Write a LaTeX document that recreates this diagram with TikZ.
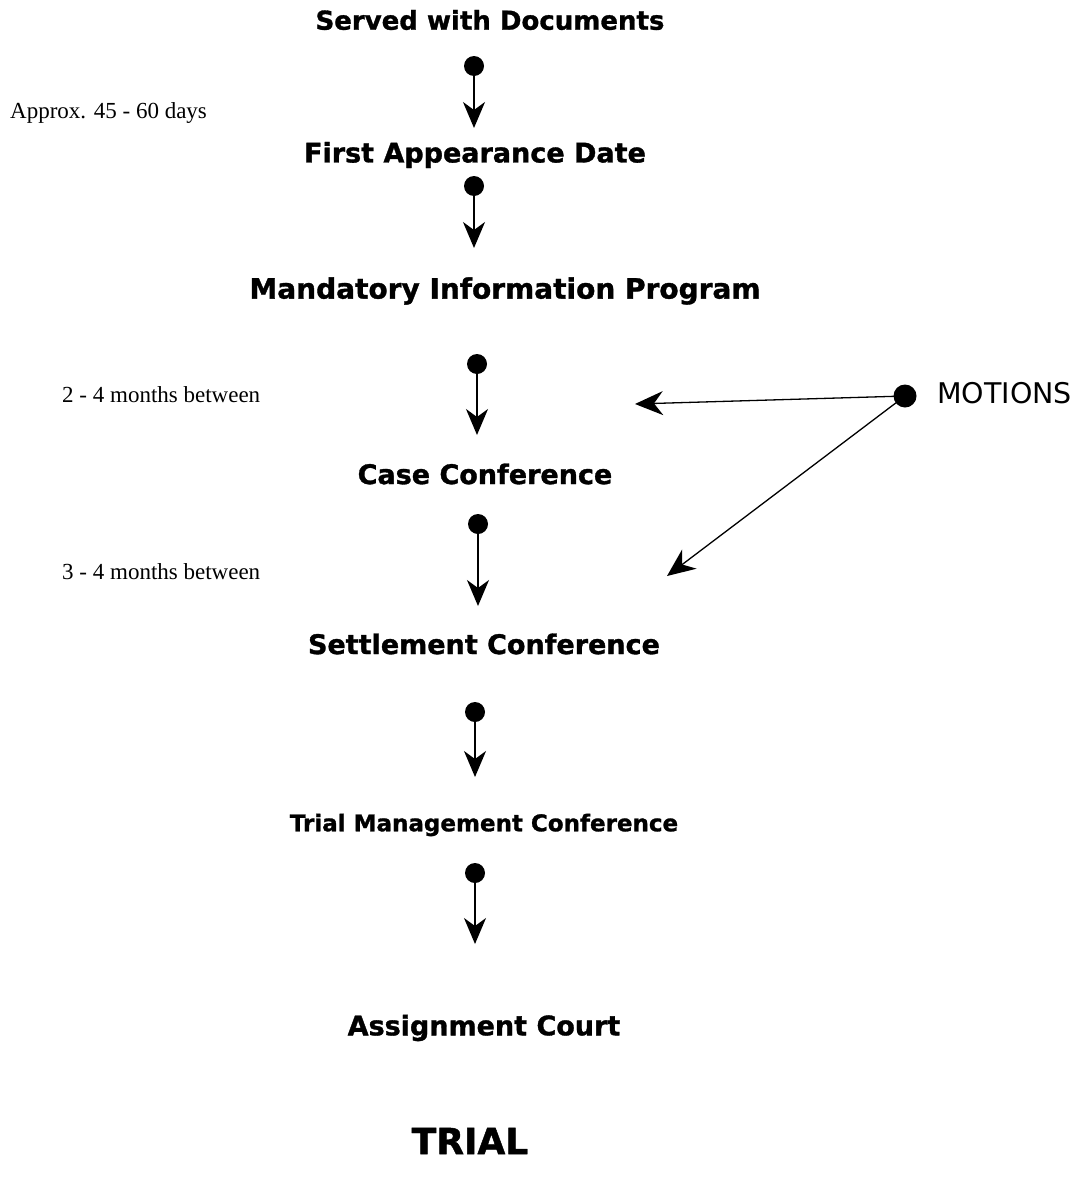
\documentclass[tikz,border=0pt]{standalone}
\usepackage{fontspec}
\setmainfont{Liberation Serif}
\newfontfamily\stagefont[BoldFeatures={FakeBold=1.2}]{DejaVu Sans}
\usetikzlibrary{arrows.meta, positioning}
\tikzstyle{stage} = [font=\stagefont\bfseries\fontsize{27}{32}\selectfont, inner sep=0pt]
\tikzstyle{note} = [font=\fontsize{23}{27}\selectfont, inner sep=0pt, anchor=west]
\tikzstyle{dot} = [circle, fill=black, minimum size=20pt, inner sep=0pt]
\tikzstyle{arrow} = [line width=1.5pt, -{Stealth[length=26pt,width=22pt,inset=8pt]}]
\tikzstyle{motionarrow} = [line width=1.3pt, -{Stealth[length=28pt,width=24pt,inset=9pt]}]

\begin{document}
\begin{tikzpicture}[x=1pt, y=-1pt]
    \useasboundingbox (0,0) rectangle (1081,1186);

    % stages
    \node (served) [stage, font=\stagefont\bfseries\fontsize{26}{31}\selectfont] at (490,20) {Served with Documents};
    \node (first) [stage] at (475,155) {First Appearance Date};
    \node (mip) [stage, font=\stagefont\bfseries\fontsize{28}{33}\selectfont] at (505,291) {Mandatory Information Program};
    \node (case) [stage] at (485,474) {Case Conference};
    \node (settle) [stage] at (484,644) {Settlement Conference};
    \node (tmc) [stage, font=\stagefont\bfseries\fontsize{23}{27}\selectfont] at (484,825) {Trial Management Conference};
    \node (assign) [stage] at (484,1028) {Assignment Court};
    \node (trial) [stage, font=\stagefont\bfseries\fontsize{36}{42}\selectfont] at (470,1141) {TRIAL};

    % time notes
    \node (approx) [note] at (10,113) {Approx. 45 - 60 days};
    \node (gap1) [note] at (62,395) {2 - 4 months between};
    \node (gap2) [note] at (62,572) {3 - 4 months between};

    % dots and arrow tips
    \node (d1) [dot] at (474,66) {};
    \coordinate (t1) at (474,128);
    \node (d2) [dot] at (474,186) {};
    \coordinate (t2) at (474,248);
    \node (d3) [dot] at (477,364) {};
    \coordinate (t3) at (477,435);
    \node (d4) [dot] at (478,524) {};
    \coordinate (t4) at (478,606);
    \node (d5) [dot] at (475,712) {};
    \coordinate (t5) at (475,777);
    \node (d6) [dot] at (475,873) {};
    \coordinate (t6) at (475,944);

    \draw [arrow] (d1.center) -- (t1);
    \draw [arrow] (d2.center) -- (t2);
    \draw [arrow] (d3.center) -- (t3);
    \draw [arrow] (d4.center) -- (t4);
    \draw [arrow] (d5.center) -- (t5);
    \draw [arrow] (d6.center) -- (t6);

    % motions
    \node (md) [dot, minimum size=23pt] at (905,396) {};
    \node (motions) [font=\stagefont\fontsize{28.5}{33}\selectfont, inner sep=0pt, anchor=west] at (937,393) {MOTIONS};
    \coordinate (m1) at (635,404);
    \coordinate (m2) at (667,576);
    \draw [motionarrow] (md.center) -- (m1);
    \draw [motionarrow] (md.center) -- (m2);
\end{tikzpicture}
\end{document}
